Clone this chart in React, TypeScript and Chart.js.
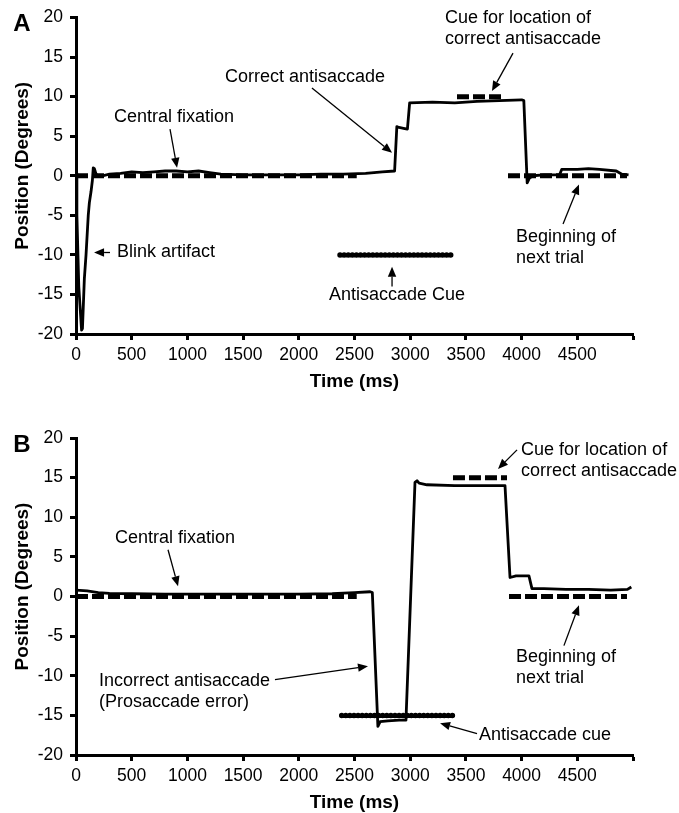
import React, { useEffect, useRef } from "react";
import { Chart, registerables } from "chart.js";

Chart.register(...registerables);

const FONT = "'Liberation Sans', Arial, Helvetica, sans-serif";

// ---------- axes ----------
const xMin = 0;
const xMax = 5000;
const xStep = 500;
const yMin = -20;
const yMax = 20;
const yStep = 5;
const xTitle = "Time (ms)";
const yTitle = "Position (Degrees)";

// ---------- Panel A ----------
const traceATime = [
  0, 8, 25, 50, 58, 75, 90, 110, 120, 135, 147, 155, 165, 180, 210, 300, 400, 500, 600, 700,
  800, 900, 1000, 1100, 1200, 1300, 1500, 1800, 2000, 2200, 2400, 2600, 2750, 2860, 2880,
  2900, 2940, 2975, 2995, 3200, 3400, 3600, 3800, 4000, 4020, 4050, 4070, 4100, 4200, 4340,
  4360, 4500, 4600, 4700, 4850, 4900, 4960,
];
const traceAPos = [
  0.3, -5, -14, -19.5, -19.3, -13, -10, -5, -3.4, -2, -0.6, 1.0, 0.9, 0.2, -0.1, 0.2, 0.3, 0.5,
  0.4, 0.5, 0.6, 0.6, 0.5, 0.6, 0.4, 0.2, 0.1, 0.1, 0.1, 0.2, 0.2, 0.3, 0.5, 0.6, 6.2, 6.1,
  6.0, 5.9, 9.2, 9.3, 9.2, 9.4, 9.5, 9.6, 9.5, -0.9, -0.3, 0.0, 0.1, 0.1, 0.8, 0.8, 0.9, 0.8,
  0.6, 0.2, 0.1,
];
const fixationATime = [0, 2520];
const fixationAPos = [0, 0];
const locationCueATime = [3420, 3850];
const locationCueAPos = [10, 10];
const nextTrialATime = [3878, 4946];
const nextTrialAPos = [0, 0];
const antiCueATime = [2370, 3390];
const antiCueAPos = [-10, -10];

const textsA = [
  { lines: ["Central fixation"], x: 880, y: 7.4, align: "center" },
  { lines: ["Correct antisaccade"], x: 2056, y: 12.5, align: "center" },
  { lines: ["Cue for location of", "correct antisaccade"], x: 3312, y: 19.9, align: "left" },
  { lines: ["Blink artifact"], x: 368, y: -9.7, align: "left" },
  { lines: ["Antisaccade Cue"], x: 2882, y: -15.1, align: "center" },
  { lines: ["Beginning of", "next trial"], x: 3950, y: -7.7, align: "left" },
];
const arrowsA = [
  [844, 5.9, 907, 1.0],
  [2118, 11.1, 2837, 2.9],
  [3923, 15.5, 3734, 10.7],
  [305, -9.7, 162, -9.7],
  [2837, -14.0, 2837, -11.5],
  [4372, -6.1, 4515, -1.1],
];

// ---------- Panel B ----------
const traceBTime = [
  0, 100, 200, 300, 500, 800, 1200, 1600, 2000, 2300, 2500, 2640, 2660, 2710, 2730, 2800, 2900,
  2962, 3043, 3061, 3080, 3150, 3400, 3600, 3800, 3851, 3896, 3950, 4066, 4093, 4200, 4400,
  4600, 4800, 4950, 4985,
];
const traceBPos = [
  0.8, 0.7, 0.5, 0.4, 0.35, 0.3, 0.3, 0.3, 0.3, 0.35, 0.5, 0.6, 0.5, -16.4, -15.8, -15.7, -15.6,
  -15.6, 14.4, 14.6, 14.3, 14.1, 14.0, 14.0, 14.0, 14.0, 2.4, 2.6, 2.6, 1.0, 1.0, 0.9, 0.9, 0.8,
  0.9, 1.2,
];
const fixationBTime = [0, 2520];
const fixationBPos = [0, 0];
const locationCueBTime = [3384, 3869];
const locationCueBPos = [15, 15];
const nextTrialBTime = [3887, 4946];
const nextTrialBPos = [0, 0];
const antiCueBTime = [2385, 3393];
const antiCueBPos = [-15, -15];

const textsB = [
  { lines: ["Central fixation"], x: 889, y: 7.4, align: "center" },
  { lines: ["Cue for location of", "correct antisaccade"], x: 3995, y: 18.5, align: "left" },
  { lines: ["Incorrect antisaccade", "(Prosaccade error)"], x: 206, y: -10.7, align: "left" },
  { lines: ["Antisaccade cue"], x: 3618, y: -17.5, align: "left" },
  { lines: ["Beginning of", "next trial"], x: 3950, y: -7.6, align: "left" },
];
const arrowsB = [
  [826, 5.9, 916, 1.3],
  [3959, 18.5, 3788, 16.1],
  [1786, -10.5, 2621, -8.8],
  [3600, -17.3, 3268, -16.0],
  [4380, -6.2, 4515, -1.1],
];

const pts = (t: number[], v: number[]) => t.map((x, i) => ({ x, y: v[i] }));

function makePlugin(letter: string, texts: any[], arrows: number[][]) {
  return {
    id: "notes" + letter,
    afterDraw(chart: any) {
      const ctx = chart.ctx;
      const xs = chart.scales.x;
      const ys = chart.scales.y;
      const ca = chart.chartArea;
      ctx.save();
      ctx.fillStyle = "#000";
      ctx.strokeStyle = "#000";
      // texts
      ctx.font = `18px ${FONT}`;
      ctx.textBaseline = "middle";
      texts.forEach((t) => {
        ctx.textAlign = t.align;
        const px = xs.getPixelForValue(t.x);
        const py = ys.getPixelForValue(t.y);
        t.lines.forEach((ln: string, i: number) => ctx.fillText(ln, px, py + i * 21));
      });
      // arrows
      arrows.forEach(([x1, y1, x2, y2]) => {
        const p1x = xs.getPixelForValue(x1);
        const p1y = ys.getPixelForValue(y1);
        const p2x = xs.getPixelForValue(x2);
        const p2y = ys.getPixelForValue(y2);
        const a = Math.atan2(p2y - p1y, p2x - p1x);
        const L = 10;
        const W = 4.2;
        const bx = p2x - L * Math.cos(a);
        const by = p2y - L * Math.sin(a);
        ctx.lineWidth = 1.3;
        ctx.beginPath();
        ctx.moveTo(p1x, p1y);
        ctx.lineTo(bx, by);
        ctx.stroke();
        ctx.beginPath();
        ctx.moveTo(p2x, p2y);
        ctx.lineTo(bx + W * Math.sin(a), by - W * Math.cos(a));
        ctx.lineTo(bx - W * Math.sin(a), by + W * Math.cos(a));
        ctx.closePath();
        ctx.fill();
      });
      // axis titles
      ctx.font = `bold 19px ${FONT}`;
      ctx.textAlign = "center";
      ctx.textBaseline = "middle";
      ctx.fillText(xTitle, (ca.left + ca.right) / 2, ca.bottom + 48);
      ctx.save();
      ctx.translate(23, (ca.top + ca.bottom) / 2 - 10);
      ctx.rotate(-Math.PI / 2);
      ctx.fillText(yTitle, 0, 0);
      ctx.restore();
      // panel letter
      ctx.font = `bold 24px ${FONT}`;
      ctx.textAlign = "center";
      ctx.fillText(letter, 22, ca.top + 7);
      ctx.restore();
    },
  };
}

function config(
  letter: string,
  trace: any[],
  fix: any[],
  locCue: any[],
  next: any[],
  anti: any[],
  texts: any[],
  arrows: number[][],
  padTop: number,
  padBottom: number
): any {
  const dash = (data: any[]) => ({
    data,
    borderColor: "#000",
    borderWidth: 5,
    borderDash: [12, 4],
    borderCapStyle: "butt",
    pointRadius: 0,
    fill: false,
  });
  return {
    type: "line",
    data: {
      datasets: [
        { data: trace, borderColor: "#000", borderWidth: 2.8, pointRadius: 0, tension: 0, fill: false, borderJoinStyle: "round" },
        dash(fix),
        dash(locCue),
        dash(next),
        {
          data: anti,
          borderColor: "#000",
          borderWidth: 5.5,
          borderDash: [0, 4.1],
          borderCapStyle: "round",
          pointRadius: 0,
          fill: false,
        },
      ],
    },
    options: {
      responsive: false,
      animation: false,
      devicePixelRatio: 1,
      layout: { padding: { left: 0, right: 46, top: padTop, bottom: padBottom } },
      plugins: { legend: { display: false }, tooltip: { enabled: false }, title: { display: false } },
      scales: {
        x: {
          type: "linear",
          min: xMin,
          max: xMax,
          afterFit: (s: any) => {
            s.height = 30;
          },
          ticks: {
            stepSize: xStep,
            color: "#000",
            font: { family: FONT, size: 17.5 },
            padding: 5,
            maxRotation: 0,
            autoSkip: false,
            callback: (v: number) => (v === xMax ? "" : String(v)),
          },
          grid: { drawOnChartArea: false, drawTicks: true, tickLength: 6, tickWidth: 3, tickColor: "#000" },
          border: { display: true, width: 3, color: "#000" },
        },
        y: {
          type: "linear",
          min: yMin,
          max: yMax,
          afterFit: (s: any) => {
            s.width = 76;
          },
          ticks: {
            stepSize: yStep,
            color: "#000",
            font: { family: FONT, size: 17.5 },
            padding: 7,
            autoSkip: false,
          },
          grid: { drawOnChartArea: false, drawTicks: true, tickLength: 6, tickWidth: 3, tickColor: "#000" },
          border: { display: true, width: 3, color: "#000" },
        },
      },
    },
    plugins: [makePlugin(letter, texts, arrows)],
  };
}

function Panel(props: { cfg: any; height: number; top: number }) {
  const ref = useRef<HTMLCanvasElement>(null);
  useEffect(() => {
    const chart = new Chart(ref.current as HTMLCanvasElement, props.cfg);
    return () => chart.destroy();
  }, []);
  return (
    <canvas
      ref={ref}
      width={679}
      height={props.height}
      style={{ position: "absolute", left: 0, top: props.top, width: 679, height: props.height }}
    />
  );
}

export default function App() {
  const cfgA = config(
    "A",
    pts(traceATime, traceAPos),
    pts(fixationATime, fixationAPos),
    pts(locationCueATime, locationCueAPos),
    pts(nextTrialATime, nextTrialAPos),
    pts(antiCueATime, antiCueAPos),
    textsA,
    arrowsA,
    17,
    42
  );
  const cfgB = config(
    "B",
    pts(traceBTime, traceBPos),
    pts(fixationBTime, fixationBPos),
    pts(locationCueBTime, locationCueBPos),
    pts(nextTrialBTime, nextTrialBPos),
    pts(antiCueBTime, antiCueBPos),
    textsB,
    arrowsB,
    32,
    28
  );
  return (
    <div style={{ position: "absolute", left: 0, top: 0, width: 679, height: 813, background: "#fff" }}>
      <Panel cfg={cfgA} height={406} top={0} />
      <Panel cfg={cfgB} height={407} top={406} />
    </div>
  );
}
